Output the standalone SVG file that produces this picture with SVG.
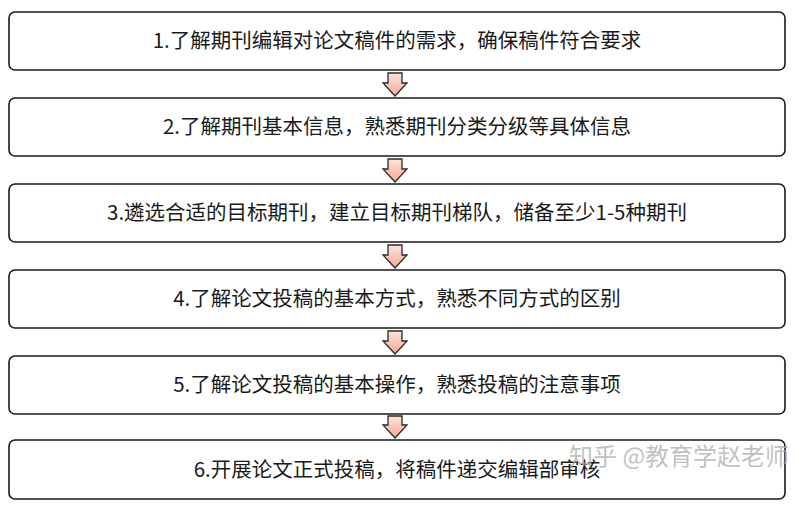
<svg xmlns="http://www.w3.org/2000/svg" width="810" height="511" viewBox="0 0 810 511">
<defs>
<linearGradient id="ag" x1="0" y1="0" x2="0" y2="1">
<stop offset="0" stop-color="#fde3dc"/>
<stop offset="1" stop-color="#f4a896"/>
</linearGradient>
<style>
.box{fill:#fff;stroke:#1a1a1a;stroke-width:1.6}
.t{font-family:"Noto Sans CJK SC","Noto Sans",sans-serif;font-size:20.5px;fill:#1a1a1a;text-anchor:middle}
.arr{fill:url(#ag);stroke:#2a2a2a;stroke-width:1.3;stroke-linejoin:miter}
.wm{font-family:"Noto Sans CJK SC",sans-serif;font-size:24px;fill:#b0b0b0;fill-opacity:0.8}
</style>
</defs>
<rect width="810" height="511" fill="#fff"/>
<g id="node1"><rect class="box" x="9" y="12" width="776" height="58" rx="6"/><text class="t" x="397" y="48">1.了解期刊编辑对论文稿件的需求，确保稿件符合要求</text></g>
<g id="node2"><rect class="box" x="9" y="98" width="776" height="58" rx="6"/><text class="t" x="397" y="134">2.了解期刊基本信息，熟悉期刊分类分级等具体信息</text></g>
<g id="node3"><rect class="box" x="9" y="184" width="776" height="58" rx="6"/><text class="t" x="397" y="220">3.遴选合适的目标期刊，建立目标期刊梯队，储备至少1-5种期刊</text></g>
<g id="node4"><rect class="box" x="9" y="270" width="776" height="58" rx="6"/><text class="t" x="397" y="306">4.了解论文投稿的基本方式，熟悉不同方式的区别</text></g>
<g id="node5"><rect class="box" x="9" y="356" width="776" height="58" rx="6"/><text class="t" x="397" y="392">5.了解论文投稿的基本操作，熟悉投稿的注意事项</text></g>
<g id="node6"><rect class="box" x="9" y="440" width="776" height="59" rx="6"/><text class="t" x="397" y="477">6.开展论文正式投稿，将稿件递交编辑部审核</text></g>
<g id="connectors">
<path class="arr" d="M388,73 H402 V83 H407 L395,96 L383,83 H388 Z"/>
<path class="arr" d="M388,159 H402 V169 H407 L395,182 L383,169 H388 Z"/>
<path class="arr" d="M388,245 H402 V255 H407 L395,268 L383,255 H388 Z"/>
<path class="arr" d="M388,331 H402 V341 H407 L395,354 L383,341 H388 Z"/>
<path class="arr" d="M388,416 H402 V425 H407 L395,438 L383,425 H388 Z"/>
</g>
<text class="wm" x="569" y="465">知乎 @教育学赵老师</text>
</svg>
